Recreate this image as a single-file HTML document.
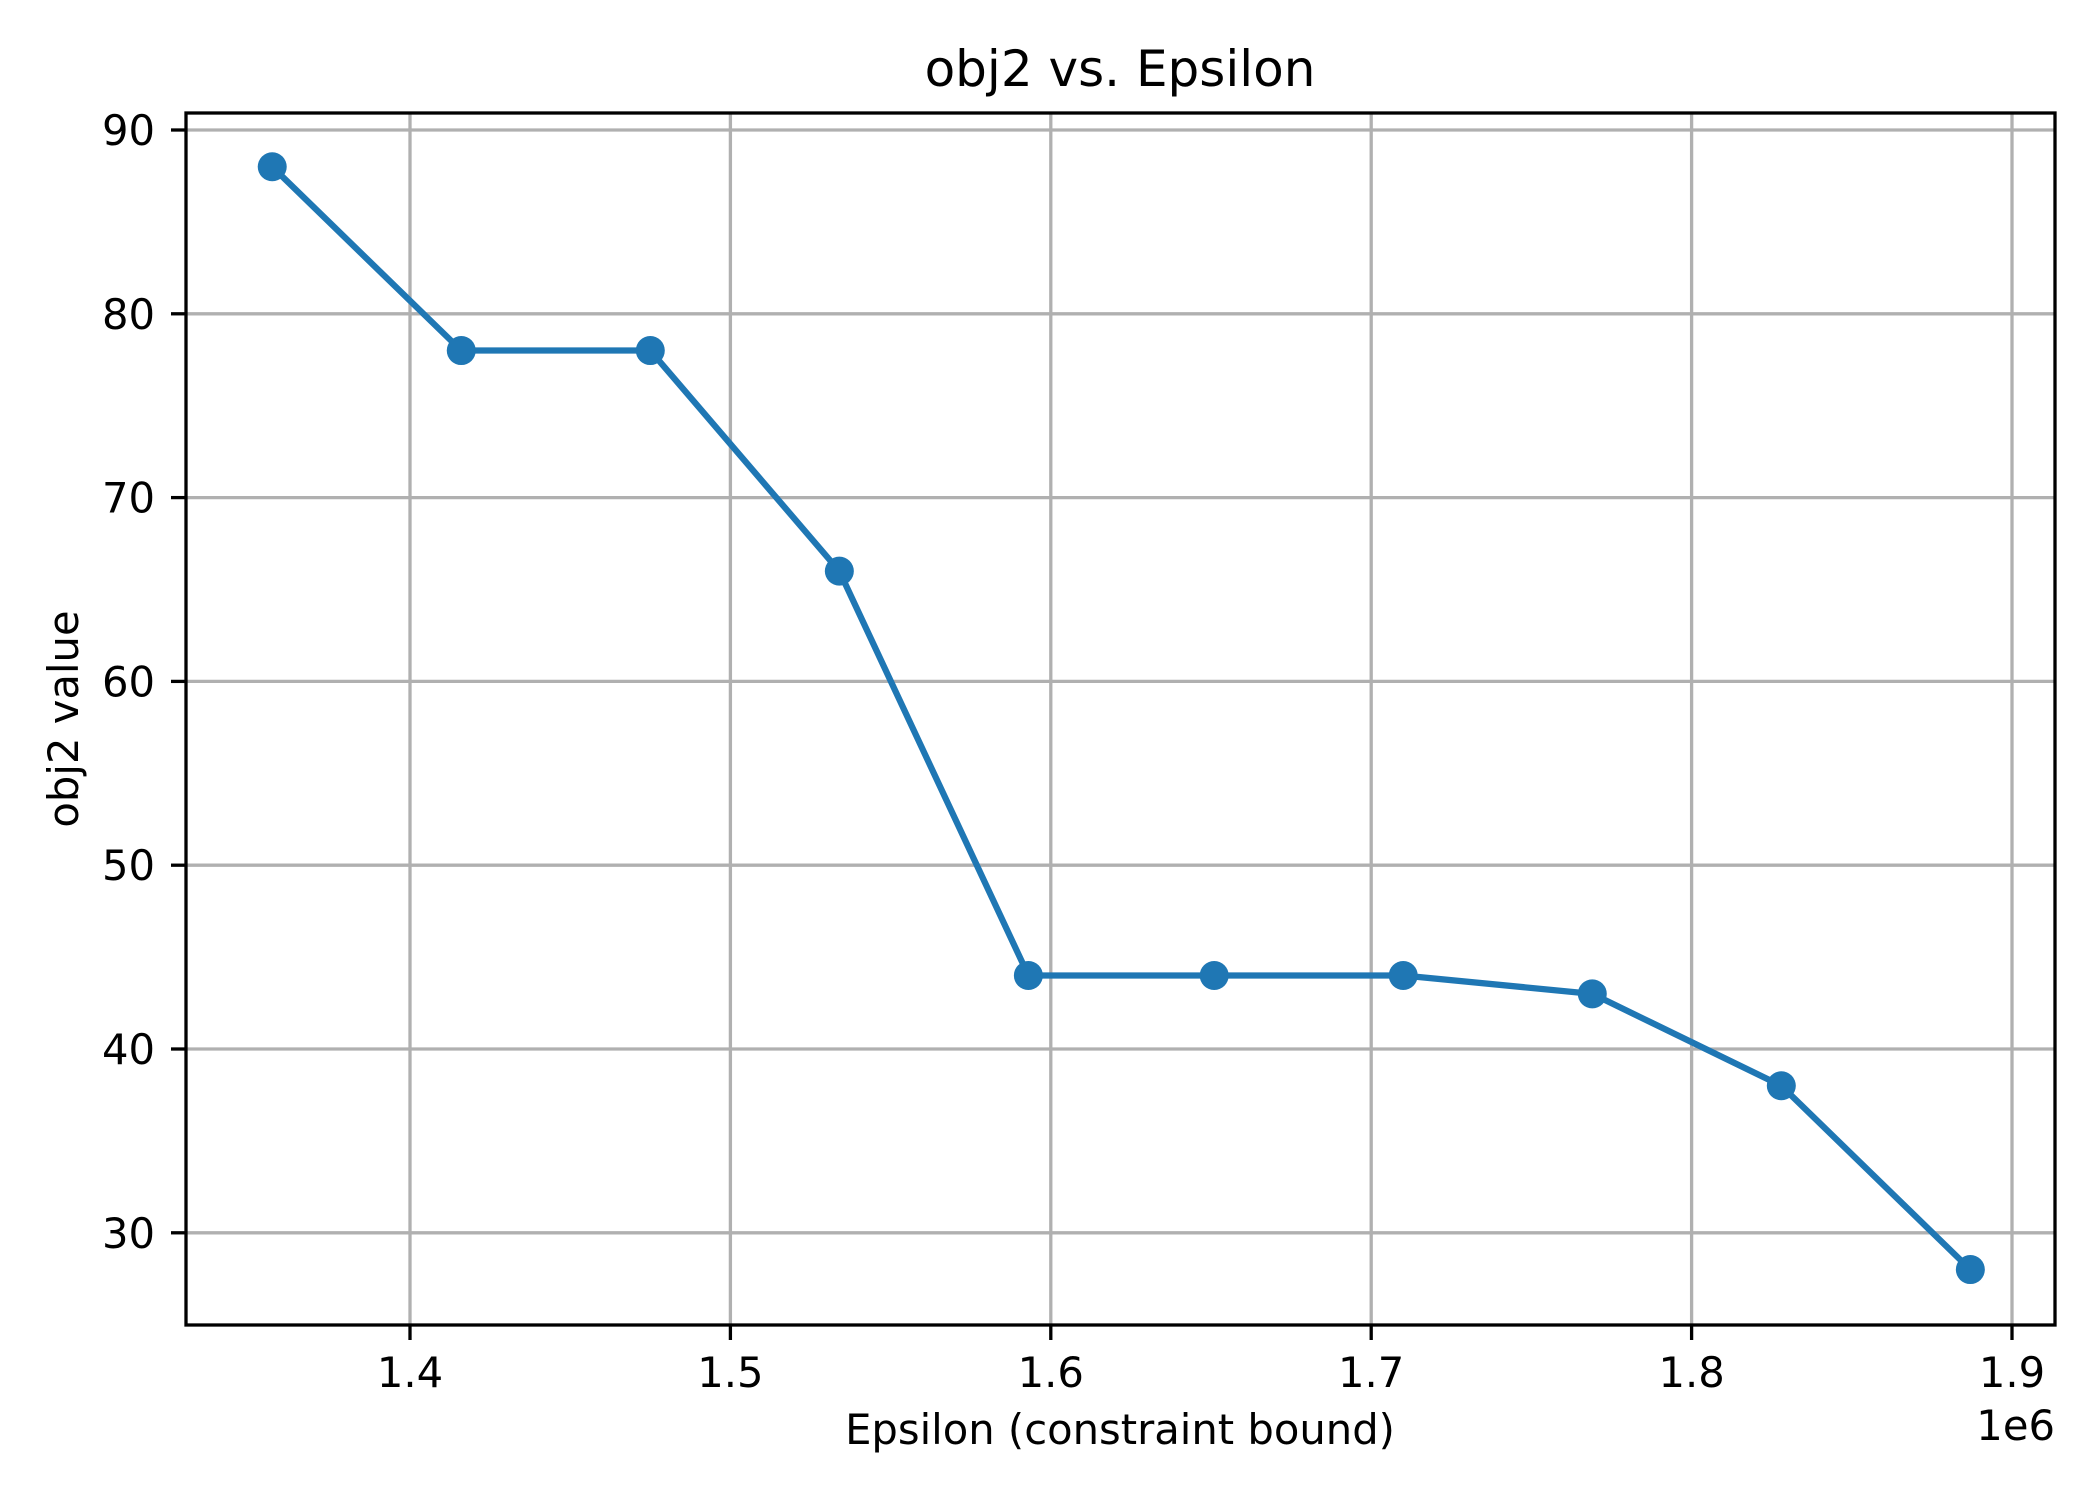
<!DOCTYPE html>
<html><head><meta charset="utf-8"><style>
html,body{margin:0;padding:0;background:#fff;}
svg{display:block;font-family:"DejaVu Sans","Liberation Sans",sans-serif;}
</style></head><body>
<svg id="chart" width="2100" height="1500" xmlns="http://www.w3.org/2000/svg">
<rect width="2100" height="1500" fill="#fff"/>
<g id="grid"></g>
<g id="series"></g>
<rect x="186" y="113" width="1869" height="1212" fill="none" stroke="#000" stroke-width="3.3"/>
<g id="ticks"></g>
<text x="1120" y="86" font-size="50" text-anchor="middle">obj2 vs. Epsilon</text>
<text x="1120" y="1444" font-size="41.7" text-anchor="middle">Epsilon (constraint bound)</text>
<text x="0" y="0" font-size="41.7" text-anchor="middle" transform="translate(78,719) rotate(-90)">obj2 value</text>
<text x="2055" y="1440" font-size="41.7" text-anchor="end">1e6</text>
</svg>
<script>
const xValues=[1.357,1.416,1.475,1.534,1.593,1.651,1.710,1.769,1.828,1.887];
const yValues=[88,78,78,66,44,44,44,43,38,28];
const xTicks=[1.4,1.5,1.6,1.7,1.8,1.9];
const yTicks=[30,40,50,60,70,80,90];
const NS="http://www.w3.org/2000/svg";
function sx(v){return 410+(v-1.4)*3204;}
function sy(v){return 130+(90-v)*18.38;}
function mk(tag,attrs,parent){const e=document.createElementNS(NS,tag);for(const k in attrs)e.setAttribute(k,attrs[k]);parent.appendChild(e);return e;}
const grid=document.getElementById('grid'),ticks=document.getElementById('ticks'),series=document.getElementById('series');
xTicks.forEach(t=>{
  const x=sx(t);
  const g=mk('line',{x1:x,x2:x,y1:113,y2:1325,stroke:'#b0b0b0','stroke-width':3.3},grid);
  
  
  const tk=mk('line',{x1:x,x2:x,y1:1325,y2:1340,stroke:'#000','stroke-width':3.3},ticks);
  
  
  const lb=mk('text',{x:x,y:1387,'font-size':41.7,'text-anchor':'middle'},ticks);
  lb.textContent=t.toFixed(1);
  
  
});
yTicks.forEach(t=>{
  const y=sy(t);
  const g=mk('line',{x1:186,x2:2055,y1:y,y2:y,stroke:'#b0b0b0','stroke-width':3.3},grid);
  
  
  const tk=mk('line',{x1:171,x2:186,y1:y,y2:y,stroke:'#000','stroke-width':3.3},ticks);
  
  
  const lb=mk('text',{x:155,y:y+15,'font-size':41.7,'text-anchor':'end'},ticks);
  lb.textContent=String(t);
  
  
});
const pts=xValues.map((v,i)=>sx(v)+','+sy(yValues[i])).join(' ');
const pl=mk('polyline',{points:pts,fill:'none',stroke:'#1f77b4','stroke-width':6.25,'stroke-linejoin':'round'},series);


xValues.forEach((v,i)=>{
  const c=mk('circle',{cx:sx(v),cy:sy(yValues[i]),r:14.5,fill:'#1f77b4'},series);
  
  
});
</script>
</body></html>
